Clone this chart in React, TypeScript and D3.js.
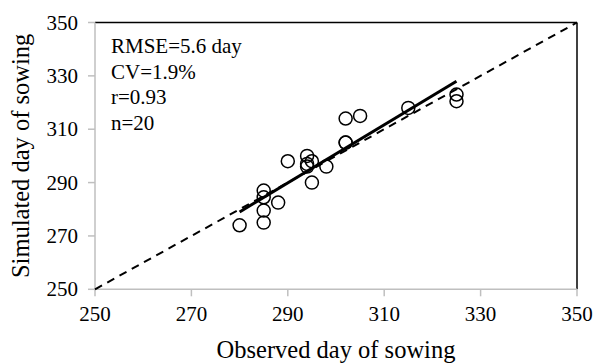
import React from "react";
import * as d3 from "d3";

const observed = [280, 285, 285, 285, 285, 288, 290, 294, 295, 294, 294, 298, 295, 302, 305, 302, 302, 315, 325, 325];
const simulated = [274, 275, 279.5, 284.5, 287, 282.5, 298, 300, 298, 296, 297, 296, 290, 314, 315, 305, 305, 318, 323, 320.5];
const regX = [280, 325];
const regY = [279, 328];
const oneToOne = [250, 350];
const xTicks = [250, 270, 290, 310, 330, 350];
const yTicks = [250, 270, 290, 310, 330, 350];
const stats = ["RMSE=5.6 day", "CV=1.9%", "r=0.93", "n=20"];

export default function App() {
  const W = 596, H = 363;
  const L = 95, R = 577, T = 22.5, B = 289.3;
  const x = d3.scaleLinear().domain([250, 350]).range([L, R]);
  const y = d3.scaleLinear().domain([250, 350]).range([B, T]);
  const line = d3.line<[number, number]>().x(d => x(d[0])).y(d => y(d[1]));
  const font = "'Liberation Serif', 'Times New Roman', serif";
  const pts = observed.map((o, i) => [o, simulated[i]] as [number, number]);
  return (
    <svg width={W} height={H} style={{ position: "absolute", left: 0, top: 0, background: "#fff" }} fontFamily={font}>
      <line x1={L} x2={R} y1={T} y2={T} stroke="#000" strokeWidth={1.5} />
      <line x1={R} x2={R} y1={T} y2={B} stroke="#000" strokeWidth={1.5} />
      <line x1={L} x2={R} y1={B} y2={B} stroke="#bfbfbf" strokeWidth={1.5} />
      <line x1={L} x2={L} y1={T} y2={B} stroke="#bfbfbf" strokeWidth={1.5} />
      {xTicks.map(t => (
        <g key={"x" + t}>
          <line x1={x(t)} x2={x(t)} y1={B} y2={B + 7} stroke="#bfbfbf" strokeWidth={1.5} />
          <text x={x(t)} y={B + 32} fontSize={21} textAnchor="middle" fill="#000">{t}</text>
        </g>
      ))}
      {yTicks.map(t => (
        <g key={"y" + t}>
          <line x1={L - 7} x2={L} y1={y(t)} y2={y(t)} stroke="#bfbfbf" strokeWidth={1.5} />
          <text x={L - 17} y={y(t) + 7} fontSize={21} textAnchor="end" fill="#000">{t}</text>
        </g>
      ))}
      <path d={line(oneToOne.map(v => [v, v] as [number, number])) || ""} stroke="#000" strokeWidth={2} strokeDasharray="8,6" fill="none" />
      <path d={line(regX.map((v, i) => [v, regY[i]] as [number, number])) || ""} stroke="#000" strokeWidth={3} fill="none" />
      {pts.map((p, i) => (
        <circle key={i} cx={x(p[0])} cy={y(p[1])} r={6.5} fill="none" stroke="#000" strokeWidth={1.5} />
      ))}
      {stats.map((s, i) => (
        <text key={s} x={111} y={53 + i * 25.5} fontSize={21} fill="#000">{s}</text>
      ))}
      <text x={(L + R) / 2} y={358} fontSize={24.5} textAnchor="middle" fill="#000">Observed day of sowing</text>
      <text transform={`translate(29, ${(T + B) / 2}) rotate(-90)`} fontSize={24.5} textAnchor="middle" fill="#000">Simulated day of sowing</text>
    </svg>
  );
}
